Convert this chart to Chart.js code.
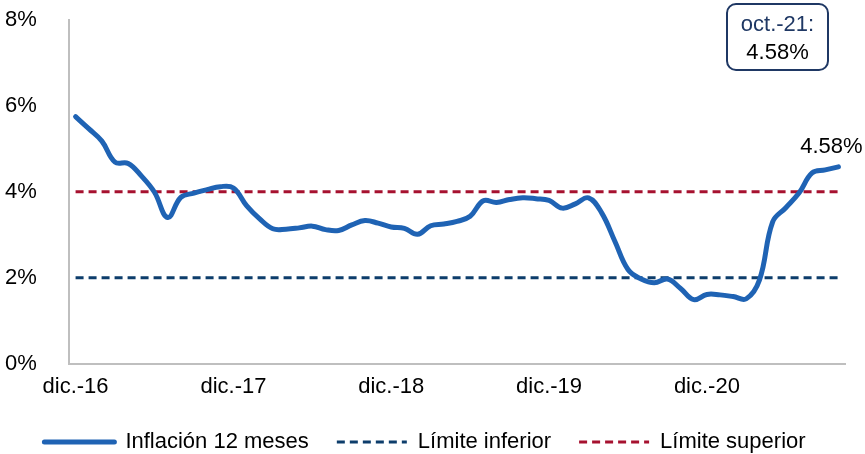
<!DOCTYPE html>
<html>
<head>
<meta charset="utf-8">
<script src="https://cdn.jsdelivr.net/npm/chart.js@4/dist/chart.umd.min.js"></script>
<style>
  html, body { margin: 0; padding: 0; background: #ffffff; }
  #wrap { width: 865px; height: 454px; position: relative; }
</style>
</head>
<body>
<div id="wrap"><canvas id="c" width="865" height="454"></canvas></div>
<script>
const months = ['ene.','feb.','mar.','abr.','may.','jun.','jul.','ago.','sep.','oct.','nov.','dic.'];
const categories = ['dic.-16'];
for (let y = 17; y <= 21; y++) {
  for (let m = 0; m < 12; m++) {
    if (y === 21 && m > 9) break;
    categories.push(months[m] + '-' + y);
  }
}
const inflation = [
  5.75,
  5.47, 5.18, 4.69, 4.66, 4.37, 3.99, 3.40, 3.87, 3.97, 4.05, 4.12, 4.09,
  3.68, 3.37, 3.14, 3.13, 3.16, 3.20, 3.12, 3.10, 3.23, 3.33, 3.27, 3.18,
  3.15, 3.01, 3.21, 3.25, 3.31, 3.43, 3.79, 3.75, 3.82, 3.86, 3.84, 3.80,
  3.62, 3.72, 3.86, 3.51, 2.85, 2.19, 1.97, 1.88, 1.97, 1.75, 1.49, 1.61,
  1.60, 1.56, 1.51, 1.95, 3.30, 3.63, 3.97, 4.44, 4.51, 4.58
];
const lowerLimit = categories.map(() => 2);
const upperLimit = categories.map(() => 4);
const yTicks = [0, 2, 4, 6, 8];
const seriesNames = ['Inflación 12 meses', 'Límite inferior', 'Límite superior'];
const calloutLines = ['oct.-21:', '4.58%'];
const endLabel = '4.58%';

const FONT = "'Liberation Sans', Arial, sans-serif";
const BLUE = '#1f63b4';
const NAVY = '#0d3d6b';
const RED = '#a6112f';

const overlay = {
  id: 'overlay',
  afterDatasetsDraw(chart) {
    const ctx = chart.ctx;
    const meta = chart.getDatasetMeta(0);
    const last = meta.data[meta.data.length - 1];
    ctx.save();
    ctx.font = '22px ' + FONT;
    ctx.fillStyle = '#000';
    ctx.textAlign = 'center';
    ctx.textBaseline = 'middle';
    ctx.fillText(endLabel, last.x - 7, last.y - 20);

    // callout box
    const bx = 727, by = 4, bw = 101, bh = 66, r = 9;
    ctx.beginPath();
    ctx.roundRect(bx, by, bw, bh, r);
    ctx.fillStyle = '#fff';
    ctx.fill();
    ctx.lineWidth = 2;
    ctx.strokeStyle = '#1f3864';
    ctx.stroke();
    ctx.fillStyle = '#1f3864';
    ctx.fillText(calloutLines[0], bx + bw / 2, 25);
    ctx.fillStyle = '#000';
    ctx.fillText(calloutLines[1], bx + bw / 2, 53);
    ctx.restore();
  }
};

new Chart(document.getElementById('c'), {
  type: 'line',
  data: {
    labels: categories,
    datasets: [
      { label: seriesNames[0], data: inflation, borderColor: BLUE, backgroundColor: BLUE,
        borderWidth: 5, tension: 0.4, pointRadius: 0, pointStyle: 'line', borderCapStyle: 'round', order: 0 },
      { label: seriesNames[1], data: lowerLimit, borderColor: NAVY, backgroundColor: NAVY,
        borderWidth: 3, borderDash: [8, 5], pointRadius: 0, pointStyle: 'line', order: 1 },
      { label: seriesNames[2], data: upperLimit, borderColor: RED, backgroundColor: RED,
        borderWidth: 3, borderDash: [8, 5], pointRadius: 0, pointStyle: 'line', order: 1 }
    ]
  },
  options: {
    responsive: false,
    animation: false,
    layout: { padding: { left: 5, right: 20, top: 20, bottom: -9 } },
    plugins: {
      tooltip: { enabled: false },
      legend: {
        position: 'bottom',
        labels: {
          usePointStyle: true,
          pointStyleWidth: 70,
          boxHeight: 10,
          padding: 28,
          color: '#000',
          font: { family: FONT, size: 22 },
          generateLabels: (chart) => {
            const items = Chart.defaults.plugins.legend.labels.generateLabels(chart);
            items.forEach((it, i) => {
              const ds = chart.data.datasets[i];
              it.lineDash = ds.borderDash || [];
              it.lineWidth = ds.borderWidth;
              it.strokeStyle = ds.borderColor;
              it.lineCap = i === 0 ? 'round' : 'butt';
              it.pointStyle = 'line';
            });
            return items;
          }
        }
      }
    },
    scales: {
      x: {
        offset: true,
        grid: { display: false, drawTicks: false },
        border: { display: true, color: '#bfbfbf', width: 2 },
        afterFit: (s) => { s.height = s.height - 7; },
        ticks: {
          autoSkip: false, maxRotation: 0, minRotation: 0, padding: 10, color: '#000',
          font: { family: FONT, size: 22 },
          callback: function(v, i) { return i % 12 === 0 ? categories[i] : null; }
        }
      },
      y: {
        min: yTicks[0], max: yTicks[yTicks.length - 1],
        afterBuildTicks: (s) => { s.ticks = yTicks.map(v => ({ value: v })); },
        afterFit: (s) => { s.width = 64; },
        grid: { display: false, drawTicks: false },
        border: { display: true, color: '#bfbfbf', width: 2 },
        ticks: {
          padding: 0, crossAlign: 'far', color: '#000',
          font: { family: FONT, size: 22 },
          callback: (v) => v + '%'
        }
      }
    }
  },
  plugins: [overlay]
});
</script>
</body>
</html>
